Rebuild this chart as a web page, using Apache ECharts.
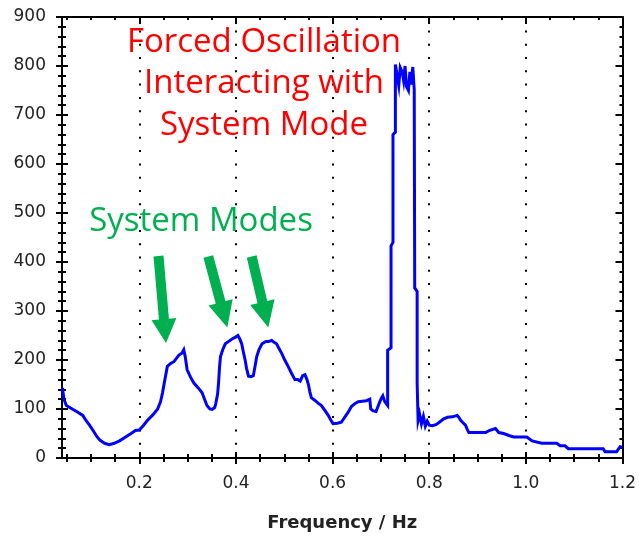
<!DOCTYPE html>
<html>
<head>
<meta charset="utf-8">
<script src="https://cdn.jsdelivr.net/npm/echarts@6/dist/echarts.min.js"></script>
<style>
html,body{margin:0;padding:0;background:#fff;}
#chart{width:639px;height:537px;}
</style>
</head>
<body>
<div id="chart"></div>
<script>
// ---- data ----
const freq = [0.041,0.044,0.049,0.056,0.063,0.072,0.083,0.090,0.097,0.105,0.112,0.118,0.128,0.138,0.148,0.159,0.170,0.183,0.192,0.200,
0.208,0.217,0.228,0.238,0.244,0.248,0.253,0.258,0.265,0.272,0.282,0.288,0.292,0.295,0.299,0.306,0.313,0.322,0.330,0.335,
0.340,0.346,0.351,0.356,0.358,0.362,0.364,0.366,0.368,0.373,0.378,0.385,0.392,0.398,0.404,0.408,0.412,0.415,0.419,0.422,
0.426,0.431,0.436,0.440,0.443,0.448,0.454,0.462,0.468,0.474,0.479,0.484,0.490,0.495,0.501,0.508,0.515,0.522,0.528,0.533,
0.538,0.543,0.547,0.550,0.553,0.556,0.563,0.570,0.577,0.584,0.591,0.596,0.601,0.610,0.618,0.625,0.632,0.639,0.646,0.653,
0.662,0.670,0.677,0.679,0.684,0.690,0.694,0.697,0.701,0.704,0.708,0.714,0.714,0.721,0.721,0.725,0.725,0.730,0.730,0.734,
0.737,0.740,0.744,0.747,0.750,0.753,0.757,0.760,0.763,0.766,0.769,0.770,0.775,0.775,0.777,0.777,0.780,0.784,0.788,0.792,
0.796,0.800,0.806,0.814,0.821,0.830,0.838,0.848,0.858,0.862,0.865,0.870,0.875,0.879,0.882,0.900,0.917,0.924,0.937,0.944,
0.954,0.965,0.975,1.002,1.013,1.033,1.064,1.071,1.081,1.088,1.160,1.164,1.188,1.195,1.199];
const amplitude = [143,120,107,103,99,94,87,76,67,55,44,37,30,27,30,35,42,50,56,57,
66,77,88,100,115,133,160,187,193,197,210,214,221,207,180,165,153,143,133,120,
107,100,99,103,110,130,153,185,207,222,233,238,243,246,250,243,233,218,200,183,
167,166,168,190,207,222,233,238,238,240,236,233,222,213,200,187,173,160,160,157,
168,170,160,150,135,123,118,112,107,97,87,78,70,71,73,83,93,105,111,115,
116,117,120,100,96,95,105,113,122,127,115,107,220,225,433,440,660,665,803,800,
760,797,788,770,800,758,750,788,762,798,752,347,340,153,150,77,90,70,85,65,
75,67,66,68,73,80,83,84,87,82,77,72,67,58,52,52,52,56,60,52,
50,46,43,43,35,30,30,25,25,19,19,13,13,23,22];
const xMajor = [0.2,0.4,0.6,0.8,1.0,1.2];
const xGridLines = [0.2,0.4,0.6,0.8,1.0];
const xMinor = [0.05,0.1,0.15,0.25,0.3,0.35,0.45,0.5,0.55,0.65,0.7,0.75,0.85,0.9,0.95,1.05,1.1,1.15];
const xTitle = 'Frequency / Hz';
const noteForced = 'Forced Oscillation\nInteracting with\nSystem Mode';
const noteModes = 'System Modes';

const XMIN = 0.04, XMAX = 1.2, YMIN = 0, YMAX = 900;
const seriesData = freq.map((f, i) => [f, amplitude[i]]);
const lblFont = {fontFamily: 'DejaVu Sans', fontSize: 17, color: '#222'};

function xAx(opts) {
  return Object.assign({
    type: 'value', min: XMIN, max: XMAX, gridIndex: 0,
    axisLine: {show: false},
    axisLabel: {show: false},
    splitLine: {show: false},
    axisTick: {show: false}
  }, opts);
}
function yAx(opts) {
  return Object.assign({
    type: 'value', min: YMIN, max: YMAX, interval: 100, gridIndex: 0,
    axisLine: {show: false},
    axisLabel: {show: false},
    splitLine: {show: false},
    axisTick: {show: false}
  }, opts);
}

function arrow(x1, y1, x2, y2, shaftW, headW, headL) {
  const dx = x2 - x1, dy = y2 - y1, len = Math.hypot(dx, dy);
  const ux = dx / len, uy = dy / len, nx = -uy, ny = ux;
  const bx = x2 - ux * headL, by = y2 - uy * headL;
  const s = shaftW / 2, h = headW / 2;
  return {
    type: 'polygon', silent: true, z: 100,
    shape: {points: [
      [x1 + nx * s, y1 + ny * s], [bx + nx * s, by + ny * s], [bx + nx * h, by + ny * h],
      [x2, y2],
      [bx - nx * h, by - ny * h], [bx - nx * s, by - ny * s], [x1 - nx * s, y1 - ny * s]
    ]},
    style: {fill: '#00b050'}
  };
}

const chart = echarts.init(document.getElementById('chart'), null, {renderer: 'canvas'});
chart.setOption({
  animation: false,
  backgroundColor: '#fff',
  grid: {left: 62, top: 17, right: 13, bottom: 70, containLabel: false},
  xAxis: [
    xAx({position: 'bottom',
      axisLine: {show: true, lineStyle: {color: '#000', width: 2}},
      axisTick: {show: true, inside: false, length: 6, customValues: xMajor, lineStyle: {color: '#000', width: 2}},
      axisLabel: {show: true, customValues: xMajor, margin: 17, formatter: v => v.toFixed(1), ...lblFont},
      name: xTitle, nameLocation: 'middle', nameGap: 56,
      nameTextStyle: {fontFamily: 'DejaVu Sans', fontWeight: 'bold', fontSize: 18, color: '#222'}
    }),
    xAx({position: 'bottom', axisTick: {show: true, inside: true, length: 6, customValues: xMajor, lineStyle: {color: '#000', width: 2}}}),
    xAx({position: 'bottom', axisTick: {show: true, inside: false, length: 4, customValues: xMinor, lineStyle: {color: '#000', width: 2}}}),
    xAx({position: 'bottom', axisTick: {show: true, inside: true, length: 4, customValues: xMinor, lineStyle: {color: '#000', width: 2}}}),
    xAx({position: 'top',
      axisLine: {show: true, lineStyle: {color: '#000', width: 2}},
      axisTick: {show: true, inside: true, length: 7, customValues: xMajor, lineStyle: {color: '#000', width: 2}}}),
    xAx({position: 'top', axisTick: {show: true, inside: true, length: 3, customValues: xMinor, lineStyle: {color: '#000', width: 2}}})
  ],
  yAxis: [
    yAx({position: 'left',
      axisLine: {show: true, lineStyle: {color: '#000', width: 2}},
      axisTick: {show: true, inside: false, length: 6, lineStyle: {color: '#000', width: 2}},
      minorTick: {show: true, splitNumber: 5, length: 4, lineStyle: {color: '#000', width: 2}},
      axisLabel: {show: true, margin: 16, ...lblFont}
    }),
    yAx({position: 'left',
      axisTick: {show: true, inside: true, length: 6, lineStyle: {color: '#000', width: 2}},
      minorTick: {show: true, splitNumber: 5, length: 4, lineStyle: {color: '#000', width: 2}}
    }),
    yAx({position: 'right',
      axisLine: {show: true, lineStyle: {color: '#000', width: 2}},
      axisTick: {show: true, inside: true, length: 7, lineStyle: {color: '#000', width: 2}},
      minorTick: {show: true, splitNumber: 5, length: 3, lineStyle: {color: '#000', width: 2}}
    })
  ],
  series: [{
    type: 'line', xAxisIndex: 0, yAxisIndex: 0,
    data: seriesData, showSymbol: false, symbol: 'none',
    lineStyle: {color: '#0000ff', width: 3, join: 'miter'},
    z: 10,
    markLine: {
      silent: true, symbol: 'none', label: {show: false}, animation: false,
      lineStyle: {color: '#000', width: 2, type: [2, 11.3], cap: 'butt'},
      data: xGridLines.map(v => ({xAxis: v}))
    }
  }],
  graphic: [
    {type: 'text', left: null, x: 264, y: 84, silent: true, z: 100,
      style: {text: noteForced, fill: '#ff0000', font: '33px "Open Sans"', align: 'center', verticalAlign: 'middle', lineHeight: 41.5}},
    {type: 'text', x: 201, y: 222, silent: true, z: 100,
      style: {text: noteModes, fill: '#00b050', font: '33px "Open Sans"', align: 'center', verticalAlign: 'middle'}},
    arrow(158.5, 256, 166, 343, 10, 25, 24),
    arrow(208.3, 256.5, 227.3, 327.5, 10, 25, 26),
    arrow(251.7, 256.5, 268.3, 327.5, 10, 25, 26)
  ]
});
</script>
</body>
</html>
